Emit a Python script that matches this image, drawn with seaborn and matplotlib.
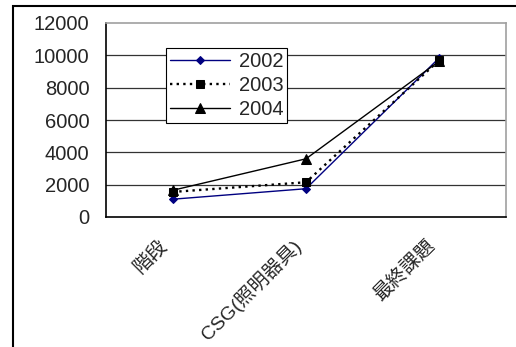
import matplotlib
matplotlib.use("Agg")
import matplotlib.pyplot as plt
from matplotlib.patches import Rectangle
from matplotlib.transforms import ScaledTranslation
import seaborn as sns
import pandas as pd

# Data
categories = ["階段", "CSG(照明器具)", "最終課題"]
years = ["2002", "2003", "2004"]
values_2002 = [1100, 1750, 9850]
values_2003 = [1550, 2150, 9700]
values_2004 = [1650, 3600, 9650]
y_ticks = [0, 2000, 4000, 6000, 8000, 10000, 12000]

series = {"2002": values_2002, "2003": values_2003, "2004": values_2004}
rows = []
for yr, vals in series.items():
    for i, v in enumerate(vals):
        rows.append({"pos": i, "value": v, "year": yr})
df = pd.DataFrame(rows)

sns.set_theme(style="white")
plt.rcParams["font.family"] = ["Liberation Sans", "Noto Sans CJK JP", "DejaVu Sans"]

fig = plt.figure(figsize=(5.16, 3.47), dpi=100)
ax = fig.add_axes([106 / 516, 1 - 217 / 347, 400 / 516, 194 / 347])

styles = {
    "2002": dict(color="#000080", marker="D", markersize=4.5, lw=1.0, ls="-"),
    "2003": dict(color="black", marker="s", markersize=5.5, lw=1.7, ls=(0, (1, 1.8))),
    "2004": dict(color="black", marker="^", markersize=6.5, lw=1.0, ls="-"),
}

for yr in years:
    st = styles[yr]
    sub = df[df["year"] == yr]
    sns.lineplot(data=sub, x="pos", y="value", ax=ax, color=st["color"],
                 marker=st["marker"], markersize=st["markersize"],
                 markeredgecolor=st["color"], markerfacecolor=st["color"],
                 linewidth=st["lw"], linestyle=st["ls"], label=yr,
                 estimator=None, zorder=3)

ax.set_xlim(-0.5, 2.5)
ax.set_ylim(0, 12000)
ax.set_xlabel("")
ax.set_ylabel("")

# y axis
ax.set_yticks(y_ticks)
ax.set_yticklabels([str(t) for t in y_ticks], fontsize=14.5)
for t in y_ticks[1:-1]:
    ax.axhline(t, color="#333333", lw=0.9, zorder=1)
ax.tick_params(axis="y", direction="in", length=3, width=1, color="black", pad=12)

# x axis: labels at categories, tick marks at boundaries
ax.set_xticks(range(len(categories)))
ax.set_xticklabels(categories, fontsize=14, rotation=45, ha="right",
                   va="center_baseline", rotation_mode="anchor",
                   fontfamily=["Liberation Sans", "Noto Sans CJK JP", "DejaVu Sans"])
ax.tick_params(axis="x", which="major", length=0, pad=20)
shift = ScaledTranslation(-9 / 100, 3 / 100, fig.dpi_scale_trans)
for lbl in ax.get_xticklabels():
    lbl.set_transform(lbl.get_transform() + shift)
ax.set_xticks([-0.5, 0.5, 1.5, 2.5], minor=True)
ax.tick_params(axis="x", which="minor", direction="in", length=6, width=1, color="black")

for side in ["left", "bottom"]:
    ax.spines[side].set_color("black")
    ax.spines[side].set_linewidth(1.2)
for side in ["top", "right"]:
    ax.spines[side].set_color("#a0a0a0")
    ax.spines[side].set_linewidth(1.2)

leg = ax.legend(loc="upper left", bbox_to_anchor=(0.15, 0.871), fontsize=14.5,
                frameon=True, fancybox=False, edgecolor="black", framealpha=1,
                handlelength=3.0, handletextpad=0.4, borderpad=0.2,
                labelspacing=0.25, borderaxespad=0)
leg.get_frame().set_linewidth(0.8)
leg.set_zorder(5)

# outer chart border
fig.patches.append(Rectangle((13 / 516, -0.2), 1.2, 1.2 - 6 / 347,
                             transform=fig.transFigure, fill=False,
                             edgecolor="black", lw=1.5, clip_on=False))

fig.savefig("out.png", dpi=100, facecolor="white")
